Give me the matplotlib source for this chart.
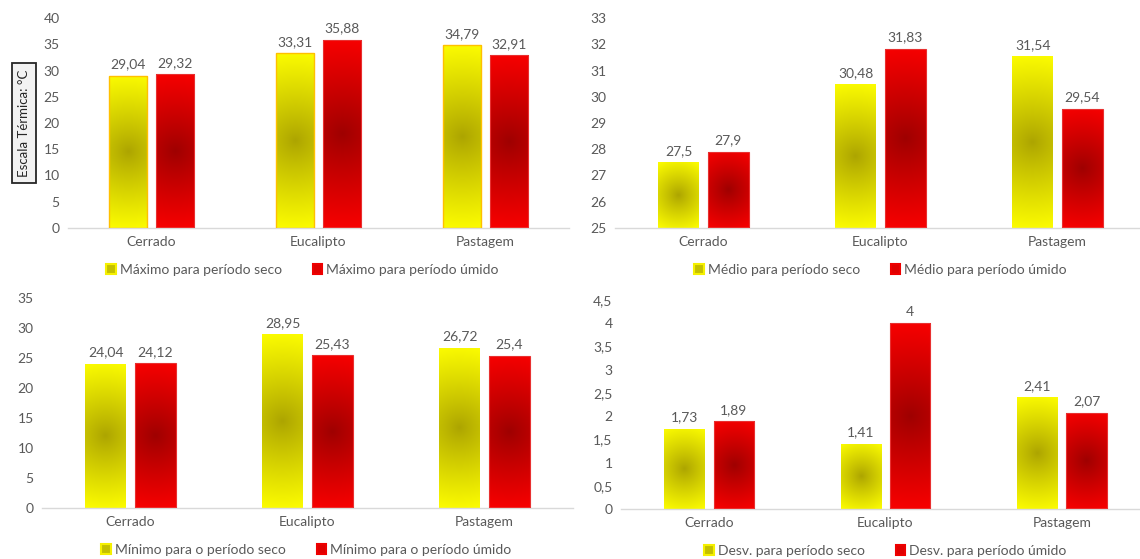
import numpy as np
import matplotlib.pyplot as plt
from matplotlib.patches import Patch

categorias = ["Cerrado", "Eucalipto", "Pastagem"]

maximo_seco = [29.04, 33.31, 34.79]
maximo_umido = [29.32, 35.88, 32.91]
medio_seco = [27.5, 30.48, 31.54]
medio_umido = [27.9, 31.83, 29.54]
minimo_seco = [24.04, 28.95, 26.72]
minimo_umido = [24.12, 25.43, 25.4]
desv_seco = [1.73, 1.41, 2.41]
desv_umido = [1.89, 4.0, 2.07]

plt.rcParams["font.family"] = ["Lato", "DejaVu Sans"]
TXT = "#595959"

AMARELO = (np.array([252, 252, 0]) / 255, np.array([172, 164, 0]) / 255)
VERMELHO = (np.array([248, 0, 0]) / 255, np.array([158, 0, 0]) / 255)


def rotulo(v):
    return f"{v:g}".replace(".", ",")


def gradiente(ax, barras, cores):
    # preenchimento radial em pixels: centro escuro, cantos claros
    borda, centro = cores
    fig = ax.figure
    fig.canvas.draw()
    for b in barras:
        x0, y0 = b.get_x(), b.get_y()
        w, h = b.get_width(), b.get_height()
        (px0, py0), (px1, py1) = ax.transData.transform([(x0, y0), (x0 + w, y0 + h)])
        wp, hp = abs(px1 - px0), abs(py1 - py0)
        nx, ny = max(int(wp), 2), max(int(hp), 2)
        xx, yy = np.meshgrid(np.linspace(-wp / 2, wp / 2, nx),
                             np.linspace(-hp / 2, hp / 2, ny))
        r = np.clip(np.hypot(xx, yy) / np.hypot(wp / 2, hp / 2), 0, 1) ** 0.9
        img = centro[None, None, :] + (borda - centro)[None, None, :] * r[..., None]
        im = ax.imshow(img, extent=[x0, x0 + w, y0, y0 + h], aspect="auto",
                       origin="lower", zorder=2, interpolation="bilinear")
        im.set_clip_path(b)


def painel(ax, seco, umido, ylim, ticks, fmt, leg, ancora, borda_amarela=False):
    x = np.arange(len(categorias))
    w, d = 0.23, 0.14
    ec_a = "#ffc000" if borda_amarela else "none"
    base = ylim[0]
    b1 = ax.bar(x - d, np.array(seco) - base, w, bottom=base, facecolor="none",
                edgecolor=ec_a, linewidth=1.0, zorder=3)
    b2 = ax.bar(x + d, np.array(umido) - base, w, bottom=base, facecolor="none",
                edgecolor="#e83030", linewidth=0.8, zorder=3)
    ax.set_xlim(-0.5, 2.5)
    ax.set_ylim(*ylim)
    gradiente(ax, b1, AMARELO)
    gradiente(ax, b2, VERMELHO)
    ax.set_xlim(-0.5, 2.5)
    ax.set_ylim(*ylim)
    off = (ylim[1] - ylim[0]) * 0.025
    for xi, v in zip(x - d, seco):
        ax.text(xi, v + off, rotulo(v), ha="center", va="bottom", fontsize=10, color=TXT)
    for xi, v in zip(x + d, umido):
        ax.text(xi, v + off, rotulo(v), ha="center", va="bottom", fontsize=10, color=TXT)
    ax.set_yticks(ticks)
    ax.set_yticklabels([fmt(t) for t in ticks])
    ax.set_xticks(x)
    ax.set_xticklabels(categorias)
    ax.tick_params(length=0, labelsize=10, labelcolor=TXT, pad=6)
    for s in ["top", "right", "left"]:
        ax.spines[s].set_visible(False)
    ax.spines["bottom"].set_color("#d9d9d9")
    ax.spines["bottom"].set_linewidth(1)
    h = [Patch(facecolor="#c4c000", edgecolor="#f5f000", linewidth=1.5),
         Patch(facecolor="#e00000", edgecolor="#ee0000", linewidth=1.5)]
    ax.legend(h, leg, loc="center", bbox_to_anchor=(ancora, -0.2), ncol=2,
              frameon=False, fontsize=10, labelcolor=TXT, handlelength=0.7,
              handleheight=0.7, handletextpad=0.3, columnspacing=2.2)


fig = plt.figure(figsize=(11.4, 5.59), dpi=100)
W, H = 1140, 559


def eixo(x0, x1, ytop, ybot):
    return fig.add_axes([x0 / W, 1 - ybot / H, (x1 - x0) / W, (ybot - ytop) / H])


inteiro = lambda t: f"{t:g}"

ax1 = eixo(68, 569, 18, 228)
painel(ax1, maximo_seco, maximo_umido, (0, 40), range(0, 41, 5), inteiro,
       ["Máximo para período seco", "Máximo para período úmido"], 0.468, True)

ax2 = eixo(615, 1146, 18, 228)
painel(ax2, medio_seco, medio_umido, (25, 33), range(25, 34), inteiro,
       ["Médio para período seco", "Médio para período úmido"], 0.50)

ax3 = eixo(42, 573, 298, 508)
painel(ax3, minimo_seco, minimo_umido, (0, 35), range(0, 36, 5), inteiro,
       ["Mínimo para o período seco", "Mínimo para o período úmido"], 0.498)

ax4 = eixo(621, 1150, 300, 509)
painel(ax4, desv_seco, desv_umido, (0, 4.5), np.arange(0, 4.6, 0.5), rotulo,
       ["Desv. para período seco", "Desv. para período úmido"], 0.50)

fig.text(24 / W, 1 - 123 / H, "Escala Térmica: °C", rotation=90, ha="center",
         va="center", fontsize=9.5, color="#262626",
         bbox=dict(boxstyle="square,pad=0.45", facecolor="#f2f2f2",
                   edgecolor="#262626", linewidth=1.3))

fig.savefig("out.png", dpi=100)
